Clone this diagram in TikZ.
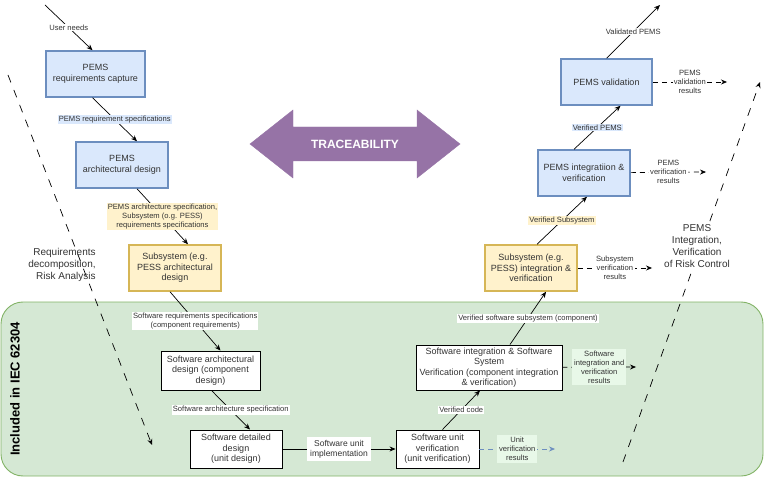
\documentclass[tikz,border=0pt]{standalone}
\usepackage{fontspec}
\setmainfont{Liberation Sans}
\usetikzlibrary{arrows.meta}
\definecolor{bfill}{HTML}{DAE8FC}\definecolor{bdraw}{HTML}{6C8EBF}
\definecolor{yfill}{HTML}{FFF2CC}\definecolor{ydraw}{HTML}{D6B656}
\definecolor{gfill}{HTML}{D5E8D4}\definecolor{gdraw}{HTML}{82B366}
\definecolor{lg}{HTML}{E8F8E8}\definecolor{purp}{HTML}{9673A6}
\definecolor{txt}{HTML}{333333}
\begin{document}
\begin{tikzpicture}[x=1pt,y=-1pt,
  box/.style={draw,line width=0.9pt,align=center,text=txt,inner sep=1pt,font=\fontsize{9}{10.5}\selectfont},
  blue/.style={box,fill=bfill,draw=bdraw,line width=1.5pt},
  yel/.style={box,fill=yfill,draw=ydraw,line width=1.5pt},
  wb/.style={box,fill=white,draw=black},
  lab/.style={font=\fontsize{7.6}{9}\selectfont,align=center,text=txt,inner sep=1pt},
  arr/.style={-{Stealth[length=6pt,width=5pt]},line width=0.7pt},
  darr/.style={arr,dash pattern=on 5pt off 4pt},
  big/.style={font=\fontsize{10}{12}\selectfont,align=center,text=txt}]
\useasboundingbox (0,0) rectangle (768,478);
% green region
\node[draw=gdraw,fill=gfill,line width=0.9pt,rounded corners=22pt,minimum width=762pt,minimum height=174pt,inner sep=0pt] (reg) at (382,389) {};
\node[rotate=90,font=\fontsize{13}{15}\selectfont\bfseries] (iec) at (15,389) {Included in IEC 62304};
% traceability arrow
\draw[fill=purp,draw=purp] (250,144) -- (293,110) -- (293,127) -- (417,127) -- (417,110) -- (460,144) -- (417,178) -- (417,161) -- (293,161) -- (293,178) -- cycle;
\node[text=white,font=\fontsize{12}{14}\selectfont\bfseries] (tr) at (355,144) {TRACEABILITY};
% left boxes
\node[blue,minimum width=99pt,minimum height=46pt] (b1) at (95.5,74) {PEMS\\requirements capture};
\node[blue,minimum width=92pt,minimum height=46pt] (b2) at (122,165) {PEMS\\architectural design};
\node[yel,minimum width=92pt,minimum height=46pt] (b3) at (175,268) {Subsystem (e.g.\\PESS architectural\\design};
\node[wb,minimum width=99pt,minimum height=39pt] (b4) at (210.5,370.5) {Software architectural\\design (component\\design)};
\node[wb,minimum width=92pt,minimum height=38pt] (b5) at (236,449) {Software detailed\\design\\(unit design)};
\node[wb,minimum width=83pt,minimum height=38pt] (b6) at (437.5,449) {Software unit\\verification\\(unit verification)};
\node[wb,minimum width=146pt,minimum height=45pt] (b7) at (489,367.5) {Software integration \& Software\\System\\Verification (component integration\\\& verification)};
\node[yel,minimum width=92pt,minimum height=46pt] (b8) at (531,268) {Subsystem (e.g.\\PESS) integration \&\\verification};
\node[blue,minimum width=92pt,minimum height=46pt] (b9) at (584,173) {PEMS integratiion \&\\verification};
\node[blue,minimum width=91pt,minimum height=46pt] (b10) at (606.5,82) {PEMS validation};
% free ends
\coordinate (un) at (45,5);
\coordinate (vp) at (660,5);
\coordinate (e6) at (555,449);
\coordinate (e7) at (636,367);
\coordinate (e8) at (652,268);
\coordinate (e9) at (706,172);
\coordinate (e10) at (727,82);
\coordinate (l1) at (8,75); \coordinate (l2) at (152,445);
\coordinate (r1) at (623,462); \coordinate (r2) at (760,82);
% descending
\draw[arr] (un) -- node[lab,fill=white,pos=0.5] {User needs} ([xshift=-3]b1.north);
\draw[arr] ([xshift=-3]b1.south) -- node[lab,fill=bfill] {PEMS requirement specifications} ([xshift=15]b2.north);
\draw[arr] ([xshift=15]b2.south) -- node[lab,fill=yfill] {PEMS architecture specification,\\Subsystem (o.g. PESS)\\requirements specifications} ([xshift=13]b3.north);
\draw[arr] ([xshift=-5]b3.south) -- node[lab,fill=white] {Software requirements specifications\\(component requirements)} ([xshift=10]b4.north);
\draw[arr] ([xshift=1]b4.south) -- node[lab,fill=white] {Software architecture specification} ([xshift=14]b5.north);
\draw[arr] (b5) -- node[lab,fill=white,font=\fontsize{8.5}{10}\selectfont,inner sep=3pt] {Software unit\\implementation} (b6);
% ascending
\draw[arr] ([xshift=5]b6.north) -- node[lab,fill=white] {Verified code} ([xshift=-9]b7.south);
\draw[arr] ([xshift=21]b7.north) -- node[lab,fill=white] {Verified software subsystem (component)} ([xshift=15]b8.south);
\draw[arr] ([xshift=6]b8.north) -- node[lab,fill=yfill] {Verified Subsystem} ([xshift=3]b9.south);
\draw[arr] ([xshift=-10]b9.north) -- node[lab,fill=bfill] {Verified PEMS} ([xshift=14]b10.south);
\draw[arr] (b10.north) -- node[lab,fill=white] {Validated PEMS} (vp);
% results
\draw[darr,draw=bdraw,color=bdraw] (b6) -- node[lab,fill=lg,inner sep=2pt] {Unit\\verification\\results} (e6);
\draw[darr] (b7) -- node[lab,fill=lg,inner sep=2pt] {Software\\integration and\\verification\\results} (e7);
\draw[darr] (b8) -- node[lab,fill=white] {Subsystem\\verification\\results} (e8);
\draw[darr] (b9) -- node[lab,fill=white] {PEMS\\verification\\results} (e9);
\draw[darr] (b10) -- node[lab,fill=white] {PEMS\\validation\\results} (e10);
% long dashed
\draw[arr,dash pattern=on 8pt off 8pt] (l1) -- (l2);
\draw[arr,dash pattern=on 8pt off 8pt] (r1) -- (r2);
\node[big,align=right] (ld) at (62,265) {Requirements\\decomposition,\\Risk Analysis};
\node[big,fill=white,inner sep=1pt] (rd) at (697,246) {PEMS\\Integration,\\Verification\\of Risk Control};
\end{tikzpicture}
\end{document}
